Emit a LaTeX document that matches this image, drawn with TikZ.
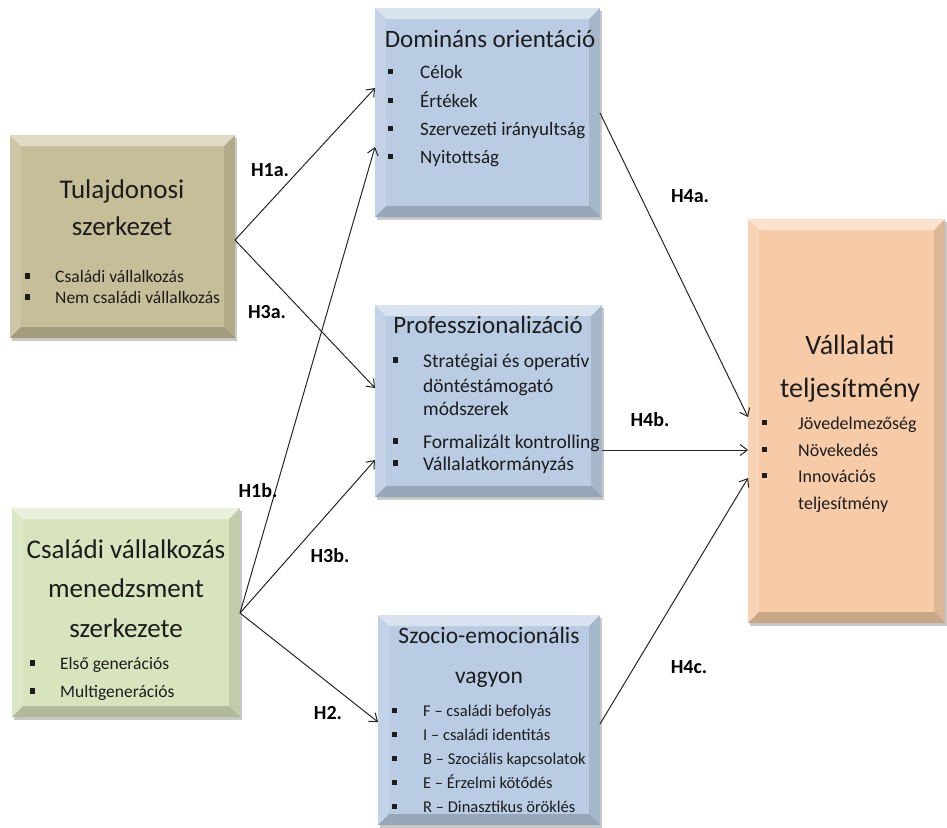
\documentclass[tikz,border=0pt]{standalone}
\usepackage{fontspec}
\setmainfont{Carlito}
\usetikzlibrary{arrows.meta,shadows,calc}
\definecolor{tanc}{HTML}{C6BE98}
\definecolor{greenc}{HTML}{D8E4BE}
\definecolor{bluec}{HTML}{B9CCE3}
\definecolor{peachc}{HTML}{F7CBA8}
\definecolor{txt}{HTML}{1C1C1C}
\newcommand{\sqb}{\rule[0.2em]{0.27em}{0.3em}}
\newcommand{\fs}[1]{\fontsize{#1}{#1}\selectfont}
\tikzset{
  bx/.style={draw=none, inner sep=0pt, outer sep=0pt, anchor=north west,
    drop shadow={shadow xshift=1.5pt, shadow yshift=-3pt, opacity=.3, fill=black!70},
    path picture={
      \coordinate (pA) at (path picture bounding box.north west);
      \coordinate (pB) at (path picture bounding box.north east);
      \coordinate (pC) at (path picture bounding box.south east);
      \coordinate (pD) at (path picture bounding box.south west);
      \fill[white,opacity=.45] (pA) -- (pB) -- ($(pB)+(-11pt,-11pt)$) -- ($(pA)+(11pt,-11pt)$) -- cycle;
      \fill[white,opacity=.15] (pA) -- ($(pA)+(11pt,-11pt)$) -- ($(pD)+(11pt,11pt)$) -- (pD) -- cycle;
      \fill[black,opacity=.10] (pB) -- ($(pB)+(-11pt,-11pt)$) -- ($(pC)+(-11pt,11pt)$) -- (pC) -- cycle;
      \fill[black,opacity=.18] (pD) -- (pC) -- ($(pC)+(-11pt,11pt)$) -- ($(pD)+(11pt,11pt)$) -- cycle;
    }},
  ttl/.style={anchor=base, inner sep=0pt, text=txt},
  itm/.style={anchor=base west, inner sep=0pt, text=txt},
  hl/.style={inner sep=0pt, font=\fs{20}\bfseries, text=black},
  arr/.style={-{Straight Barb[length=7pt,width=11pt]}, line width=1pt, draw=black!85},
}
\begin{document}
\begin{tikzpicture}[x=1pt,y=-1pt]
\useasboundingbox (0,0) rectangle (947,827);
\clip (0,0) rectangle (947,827);

% boxes
\node[bx, fill=tanc, minimum width=225pt, minimum height=203pt] (tul) at (10,135) {};
\node[bx, fill=greenc, minimum width=228pt, minimum height=209pt] (csa) at (12,508) {};
\node[bx, fill=bluec, minimum width=225pt, minimum height=209pt] (dom) at (375,8) {};
\node[bx, fill=bluec, minimum width=227pt, minimum height=192pt] (pro) at (375,305) {};
\node[bx, fill=bluec, minimum width=222pt, minimum height=210pt] (szo) at (378,615) {};
\node[bx, fill=peachc, minimum width=197pt, minimum height=404pt] (val) at (748,219) {};

% Tulajdonosi szerkezet
\node[ttl, font=\fs{27}] (tul1) at (122,198) {Tulajdonosi};
\node[ttl, font=\fs{27}] (tul2) at (122,235) {szerkezet};
\node[itm, font=\fs{17.5}] (tulb1) at (25,282) {\makebox[30pt][l]{\sqb}Családi vállalkozás};
\node[itm, font=\fs{17.5}] (tulb2) at (25,303) {\makebox[30pt][l]{\sqb}Nem családi vállalkozás};

% Családi vállalkozás menedzsment szerkezete
\node[ttl, font=\fs{27}] (csa1) at (126,558) {Családi vállalkozás};
\node[ttl, font=\fs{27}] (csa2) at (126,597) {menedzsment};
\node[ttl, font=\fs{27}] (csa3) at (126,637) {szerkezete};
\node[itm, font=\fs{17.5}] (csab1) at (30,669) {\makebox[30pt][l]{\sqb}Első generációs};
\node[itm, font=\fs{17.5}] (csab2) at (30,697) {\makebox[30pt][l]{\sqb}Multigenerációs};

% Domináns orientáció
\node[ttl, font=\fs{25}] (dom1) at (490,47) {Domináns orientáció};
\node[itm, font=\fs{19}] (domb1) at (388,78) {\makebox[32pt][l]{\sqb}Célok};
\node[itm, font=\fs{19}] (domb2) at (388,107) {\makebox[32pt][l]{\sqb}Értékek};
\node[itm, font=\fs{19}] (domb3) at (388,135) {\makebox[32pt][l]{\sqb}Szervezeti irányultság};
\node[itm, font=\fs{19}] (domb4) at (388,163) {\makebox[32pt][l]{\sqb}Nyitottság};

% Professzionalizáció
\node[ttl, font=\fs{25}] (pro1) at (488,333) {Professzionalizáció};
\node[itm, font=\fs{19.5}] (prob1) at (393,367) {\makebox[30pt][l]{\sqb}Stratégiai és operatív};
\node[itm, font=\fs{19.5}] (prob1b) at (423,392) {döntéstámogató};
\node[itm, font=\fs{19.5}] (prob1c) at (423,415) {módszerek};
\node[itm, font=\fs{19.5}] (prob2) at (393,448) {\makebox[30pt][l]{\sqb}Formalizált kontrolling};
\node[itm, font=\fs{19.5}] (prob3) at (393,470) {\makebox[30pt][l]{\sqb}Vállalatkormányzás};

% Szocio-emocionális vagyon
\node[ttl, font=\fs{23.5}] (szo1) at (489,643) {Szocio-emocionális};
\node[ttl, font=\fs{23.5}] (szo2) at (489,683) {vagyon};
\node[itm, font=\fs{16.5}] (szob1) at (392,716) {\makebox[31pt][l]{\sqb}F -- családi befolyás};
\node[itm, font=\fs{16.5}] (szob2) at (392,740) {\makebox[31pt][l]{\sqb}I -- családi identitás};
\node[itm, font=\fs{16.5}] (szob3) at (392,764) {\makebox[31pt][l]{\sqb}B -- Szociális kapcsolatok};
\node[itm, font=\fs{16.5}] (szob4) at (392,788) {\makebox[31pt][l]{\sqb}E -- Érzelmi kötődés};
\node[itm, font=\fs{16.5}] (szob5) at (392,812) {\makebox[31pt][l]{\sqb}R -- Dinasztikus öröklés};

% Vállalati teljesítmény
\node[ttl, font=\fs{28}] (val1) at (850,354) {Vállalati};
\node[ttl, font=\fs{28}] (val2) at (850,397) {teljesítmény};
\node[itm, font=\fs{18}] (valb1) at (762,429) {\makebox[36pt][l]{\sqb}Jövedelmezőség};
\node[itm, font=\fs{18}] (valb2) at (762,456) {\makebox[36pt][l]{\sqb}Növekedés};
\node[itm, font=\fs{18}] (valb3) at (762,482) {\makebox[36pt][l]{\sqb}Innovációs};
\node[itm, font=\fs{18}] (valb3b) at (798,509) {teljesítmény};

% connectors
\draw[arr] ([yshift=-105pt]tul.north east) -- ([yshift=-80pt]dom.north west);
\draw[arr] ([yshift=-105pt]tul.north east) -- ([yshift=-83pt]pro.north west);
\draw[arr] ([yshift=-105pt]csa.north east) -- ([yshift=-139pt]dom.north west);
\draw[arr] ([yshift=-105pt]csa.north east) -- ([yshift=-155pt]pro.north west);
\draw[arr] ([yshift=-105pt]csa.north east) -- ([yshift=-107pt]szo.north west);
\draw[arr] ([yshift=-105pt]dom.north east) -- ([yshift=-198pt]val.north west);
\draw[arr] ([yshift=-145pt]pro.north east) -- ([yshift=-231pt]val.north west);
\draw[arr] ([yshift=-109pt]szo.north east) -- ([yshift=-259pt]val.north west);

% labels
\node[hl] (h1a) at (270,170) {H1a.};
\node[hl] (h3a) at (267,312) {H3a.};
\node[hl] (h1b) at (258,491) {H1b.};
\node[hl] (h3b) at (330,556) {H3b.};
\node[hl] (h2) at (328,713) {H2.};
\node[hl] (h4a) at (690,196) {H4a.};
\node[hl] (h4b) at (650,420) {H4b.};
\node[hl] (h4c) at (689,667) {H4c.};
\end{tikzpicture}
\end{document}
